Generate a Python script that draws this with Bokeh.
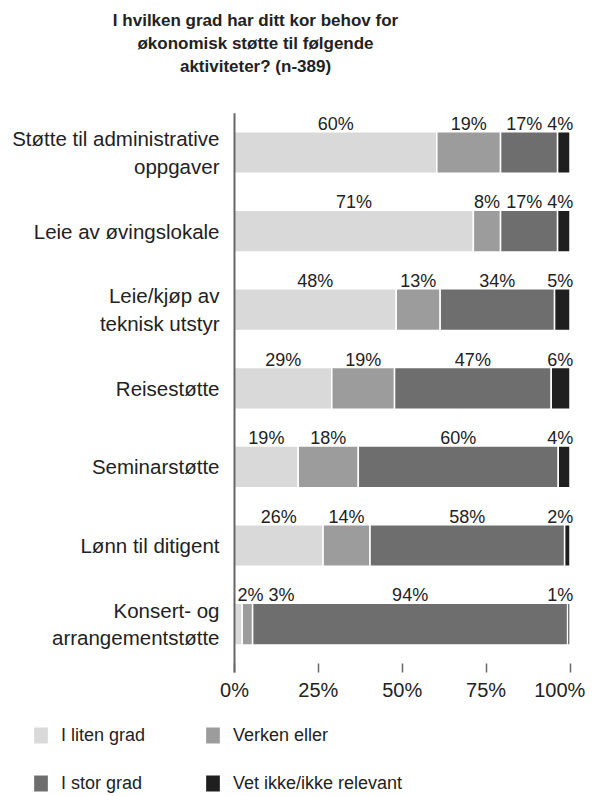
from bokeh.plotting import figure
from bokeh.models import ColumnDataSource, Range1d, FixedTicker, Legend, LegendItem
from bokeh.embed import file_html
from bokeh.resources import INLINE
from bokeh.core.properties import value

# ---- data ----
categories = [
    "Støtte til administrative\noppgaver",
    "Leie av øvingslokale",
    "Leie/kjøp av\nteknisk utstyr",
    "Reisestøtte",
    "Seminarstøtte",
    "Lønn til ditigent",
    "Konsert- og\narrangementstøtte",
]
series_names = ["I liten grad", "Verken eller", "I stor grad", "Vet ikke/ikke relevant"]
liten = [60.3, 71.2, 48.2, 29.0, 19.0, 26.4, 2.3]
verken = [19.0, 8.1, 13.1, 18.7, 17.9, 14.0, 3.1]
stor = [17.0, 17.0, 34.1, 46.7, 59.6, 58.0, 93.9]
vetikke = [3.7, 3.7, 4.6, 5.6, 3.5, 1.6, 0.7]
x_ticks = [0, 25, 50, 75, 100]
x_tick_labels = ["0%", "25%", "50%", "75%", "100%\u00a0\u00a0"]
colors = ["#d9d9d9", "#9c9c9c", "#6e6e6e", "#1f1f1f"]
title_lines = [
    "I hvilken grad har ditt kor behov for",
    "økonomisk støtte til følgende",
    "aktiviteter? (n-389)",
]

FONT = "Liberation Sans"
TXT = "#222222"
W, H = 596, 796

# ---- layout constants (pixels) ----
X0_PX = 234.0          # pixel of 0 %
PX_PER_UNIT = 3.355    # pixels per percent
ROW0_PX = 152.0        # pixel of first row centre
PX_PER_ROW = 78.6      # pixels per row
TITLE_X_PX = 255
TITLE_Y_PX = [20, 43, 66]


def to_x(px):
    return (px - X0_PX) / PX_PER_UNIT


def to_y(py):
    return (py - ROW0_PX) / PX_PER_ROW


ys = list(range(len(categories)))
source = ColumnDataSource(dict(y=ys, liten=liten, verken=verken, stor=stor, vetikke=vetikke))

p = figure(
    width=W, height=H,
    x_range=Range1d(to_x(0), to_x(W)), y_range=Range1d(to_y(H), to_y(0)),
    output_backend="svg", toolbar_location=None,
    min_border=0, min_border_left=0, min_border_right=0,
    min_border_top=0, min_border_bottom=0,
)
p.outline_line_color = None
p.xgrid.visible = False
p.ygrid.visible = False

BAR_H = 0.53
renderers = p.hbar_stack(
    ["liten", "verken", "stor", "vetikke"], y="y", height=BAR_H,
    color=colors, line_color="white", line_width=1.5, source=source,
)

# value labels above each segment, nudged apart so they do not collide
LBL_PX = 18
GAP = 5 / PX_PER_UNIT
LEFT_LIM = 3 / PX_PER_UNIT
RIGHT_LIM = 101.0
lx, ly, lt = [], [], []
for i in range(len(categories)):
    left = 0.0
    centers, widths, texts = [], [], []
    for arr in (liten, verken, stor, vetikke):
        v = arr[i]
        s = f"{round(v)}%"
        centers.append(left + v / 2)
        widths.append(LBL_PX * (0.556 * (len(s) - 1) + 0.889) / PX_PER_UNIT)
        texts.append(s)
        left += v
    lefts = [c - w / 2 for c, w in zip(centers, widths)]
    prev_r = LEFT_LIM - GAP
    for j in range(len(lefts)):
        lefts[j] = max(lefts[j], prev_r + GAP)
        prev_r = lefts[j] + widths[j]
    next_l = RIGHT_LIM + GAP
    for j in reversed(range(len(lefts))):
        lefts[j] = min(lefts[j], next_l - GAP - widths[j])
        next_l = lefts[j]
    for j in range(len(lefts)):
        lx.append(lefts[j] + widths[j] / 2)
        ly.append(ys[i] - BAR_H / 2 - 0.10)
        lt.append(texts[j])
p.text(x=lx, y=ly, text=lt, text_font=value(FONT), text_font_size=f"{LBL_PX}px",
       text_align="center", text_baseline="alphabetic", text_color=TXT)

# axis extents
Y_TOP = -0.5
Y_BOTTOM = to_y(672)

# vertical axis line
p.segment(x0=[0], y0=[Y_TOP], x1=[0], y1=[Y_BOTTOM], line_color="#666666", line_width=2)

# y axis (category labels)
ya = p.yaxis[0]
ya.fixed_location = 0
ya.ticker = FixedTicker(ticks=ys)
ya.major_label_overrides = {i: c for i, c in zip(ys, categories)}
ya.major_tick_in = 0
ya.major_tick_out = 0
ya.minor_tick_in = 0
ya.minor_tick_out = 0
ya.axis_line_color = None
ya.major_label_standoff = 15
ya.major_label_text_font = FONT
ya.major_label_text_font_size = "20.5px"
ya.major_label_text_color = TXT

# x axis
xa = p.xaxis[0]
xa.fixed_location = Y_BOTTOM
xa.ticker = FixedTicker(ticks=x_ticks)
xa.major_label_overrides = {t: l for t, l in zip(x_ticks, x_tick_labels)}
xa.axis_line_color = None
xa.major_tick_in = 9
xa.major_tick_out = 0
xa.minor_tick_in = 0
xa.minor_tick_out = 0
xa.major_tick_line_color = "#666666"
xa.major_tick_line_width = 1.5
xa.major_label_standoff = 6
xa.major_label_text_font = FONT
xa.major_label_text_font_size = "20px"
xa.major_label_text_color = TXT

# title
p.text(x=[to_x(TITLE_X_PX)] * 3, y=[to_y(v) for v in TITLE_Y_PX], text=title_lines,
       text_font=value(FONT), text_font_size="17px", text_font_style="bold",
       text_color=TXT, text_align="center", text_baseline="middle")

# legend (row-major order: liten, verken / stor, vetikke -> column-major fill)
order = [0, 2, 1, 3]
items = [LegendItem(label=series_names[k], renderers=[renderers[k]]) for k in order]
legend = Legend(
    items=items, ncols=2, location=(31, 2),
    glyph_width=19, glyph_height=22, label_height=22, label_width=116,
    label_standoff=11, spacing=26, padding=0, margin=0,
    border_line_color=None, background_fill_alpha=0,
    label_text_font=FONT, label_text_font_size="18px", label_text_color=TXT,
)
p.add_layout(legend)

open("out.html", "w").write(file_html(p, INLINE))
